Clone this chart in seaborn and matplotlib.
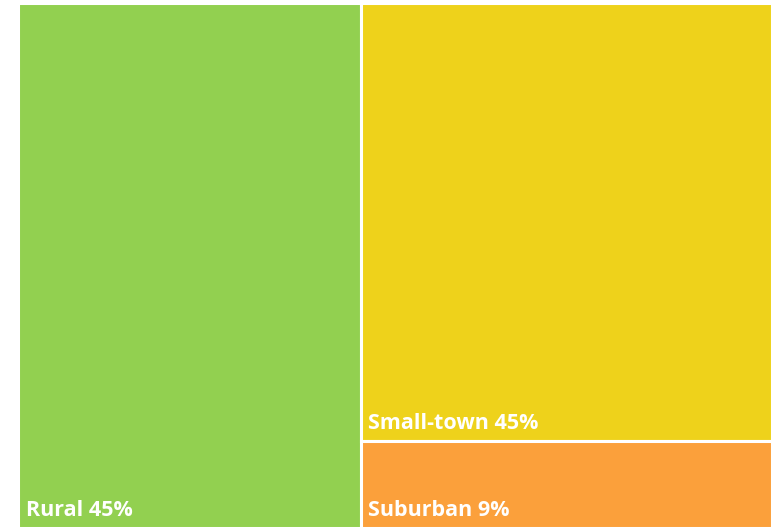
import matplotlib
matplotlib.use("Agg")
import matplotlib.pyplot as plt
import seaborn as sns
from matplotlib.patches import Rectangle

# данные
categories = ["Rural", "Small-town", "Suburban"]
values = [45, 45, 9]
colors = ["#92D050", "#EED21B", "#FBA03B"]

sns.set_theme(style="white")
plt.rcParams['font.family'] = ['Open Sans', 'DejaVu Sans']

fig = plt.figure(figsize=(7.72, 5.28), dpi=100)
ax = fig.add_axes([18 / 772, 0, 754 / 772, 525 / 528])

total = sum(values)
# первая категория занимает левую колонку целиком
w0 = values[0] / total
rects = [(0, 0, w0, 1)]
rest = sum(values[1:])
y_top = 1
for v in values[1:]:
    h = v / rest
    rects.append((w0, y_top - h, 1 - w0, h))
    y_top -= h

for (x, y, w, h), name, val, col in zip(rects, categories, values, colors):
    ax.add_patch(Rectangle((x, y), w, h, facecolor=col, edgecolor="white", linewidth=2.2))
    ax.annotate(f"{name} {val}%", xy=(x, y), xytext=(5.5, 5), textcoords="offset points",
                color="white", fontsize=15.5, fontweight="bold", ha="left", va="bottom")

ax.set_xlim(0, 1)
ax.set_ylim(0, 1)
ax.axis("off")

fig.savefig("out.png", dpi=100)
